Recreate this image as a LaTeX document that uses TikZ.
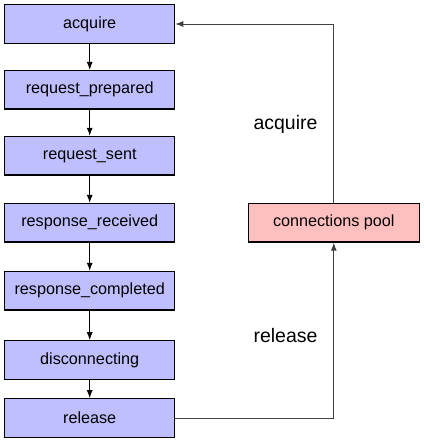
\documentclass[tikz,border=0pt]{standalone}
\usepackage{fontspec}
\setmainfont{Liberation Sans}
\usetikzlibrary{arrows.meta,%
                positioning}

\tikzset{
  state/.style={draw=black, line width=1.2pt, fill=blue!25, minimum width=170pt,
                minimum height=38.5pt, inner sep=0pt, font=\fontsize{16.2}{19}\selectfont},
  pool/.style={state, fill=red!25, minimum width=171pt},
  step edge/.style={-{Latex[length=8pt,width=6pt]}, line width=1pt},
  pool edge/.style={-{Latex[length=8pt,width=6pt]}, line width=0.9pt, draw=black!75},
  lbl/.style={font=\fontsize{19.5}{22}\selectfont}
}

\begin{document}
\begin{tikzpicture}[x=1pt, y=-1pt]
\useasboundingbox (0,0) rectangle (423,441);

\node[state] (acq) at (89.7,24) {acquire};
\node[state] (prep) at (89.7,89.8) {request\_prepared};
\node[state] (sent) at (89.7,155.7) {request\_sent};
\node[state] (recv) at (89.7,222.7) {response\_received};
\node[state] (compl) at (89.7,290.7) {response\_completed};
\node[state] (disc) at (89.7,360) {disconnecting};
\node[state] (rel) at (89.7,418) {release};

\node[pool] (cpool) at (333.8,222.8) {connections pool};

\node[lbl] (acqlbl) at (285.5,124.5) {acquire};
\node[lbl] (rellbl) at (285.5,335.5) {release};

\draw[step edge] (acq) -- (prep);
\draw[step edge] (prep) -- (sent);
\draw[step edge] (sent) -- (recv);
\draw[step edge] (recv) -- (compl);
\draw[step edge] (compl) -- (disc);
\draw[step edge] (disc) -- (rel);

\draw[pool edge] (rel.east) -| (cpool.south);
\draw[pool edge] (cpool.north) |- (acq.east);

\end{tikzpicture}
\end{document}
